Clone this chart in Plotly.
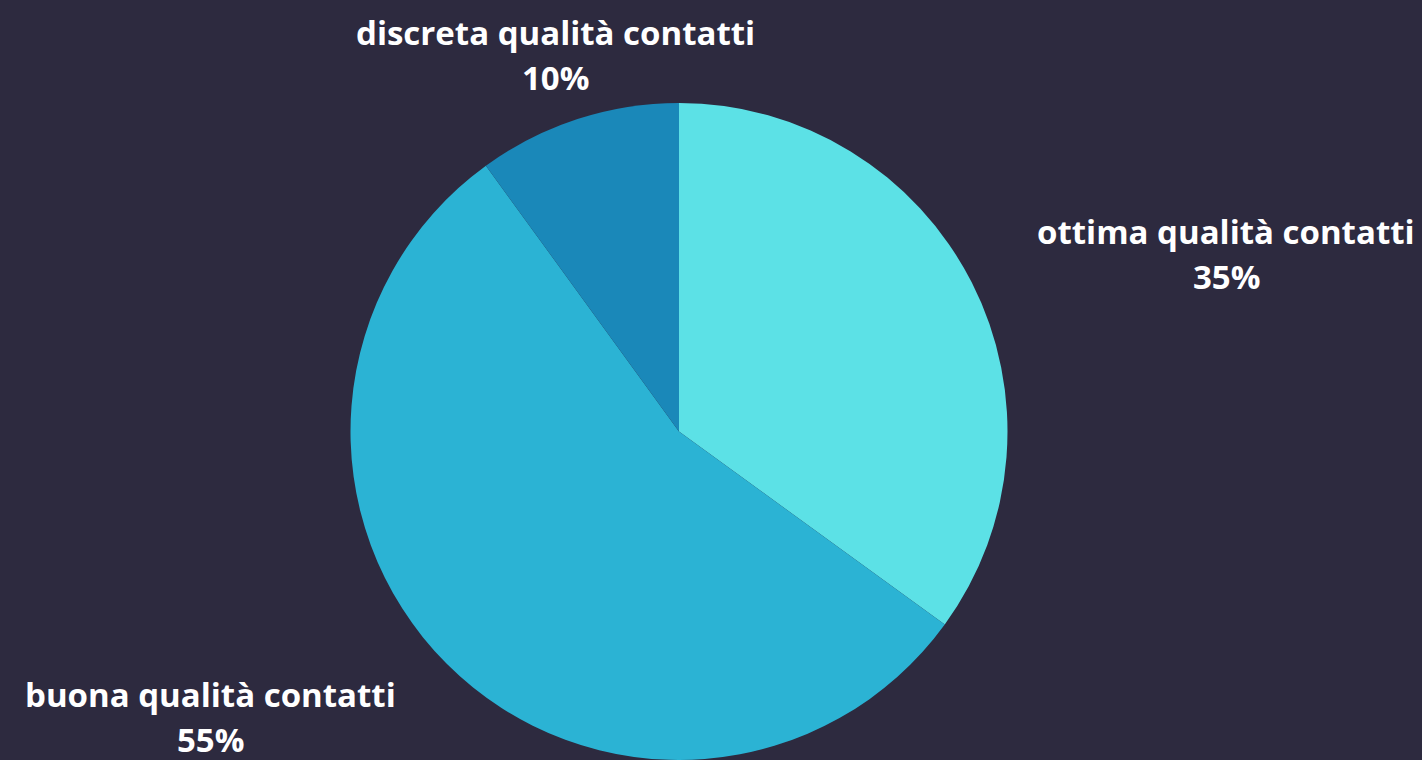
import plotly.graph_objects as go

labels = ["ottima qualità contatti", "buona qualità contatti", "discreta qualità contatti"]
values = [35, 55, 10]
colors = ["#5ce1e6", "#2bb3d4", "#1a88b9"]

W, H = 1422, 760
BG = "#2d2a3f"

# label anchor positions (pixels from left / top of first line)
label_px = [(1226, 231), (210, 694), (555, 32)]
LINE_GAP = 45

fig = go.Figure(go.Pie(
    labels=labels,
    values=values,
    marker=dict(colors=colors, line=dict(width=0)),
    sort=False,
    direction="clockwise",
    rotation=0,
    textinfo="none",
    hoverinfo="label+percent",
    showlegend=False,
    domain=dict(x=[(679 - 331) / W, (679 + 331) / W], y=[0, 1 - 103 / H]),
))

total = sum(values)
font = dict(family="Open Sans", size=33, color="white", weight="bold")
annotations = []
for lab, val, (px, py) in zip(labels, values, label_px):
    for i, line in enumerate([lab, f"{round(val / total * 100)}%"]):
        annotations.append(dict(
            text=line,
            x=px / W, y=1 - (py + i * LINE_GAP) / H, xref="paper", yref="paper",
            xanchor="center", yanchor="middle", showarrow=False,
            font=font,
        ))

fig.update_layout(
    width=W, height=H,
    margin=dict(l=0, r=0, t=0, b=0),
    paper_bgcolor=BG, plot_bgcolor=BG,
    annotations=annotations,
)

fig.write_html("out.html", config={"displayModeBar": False})
